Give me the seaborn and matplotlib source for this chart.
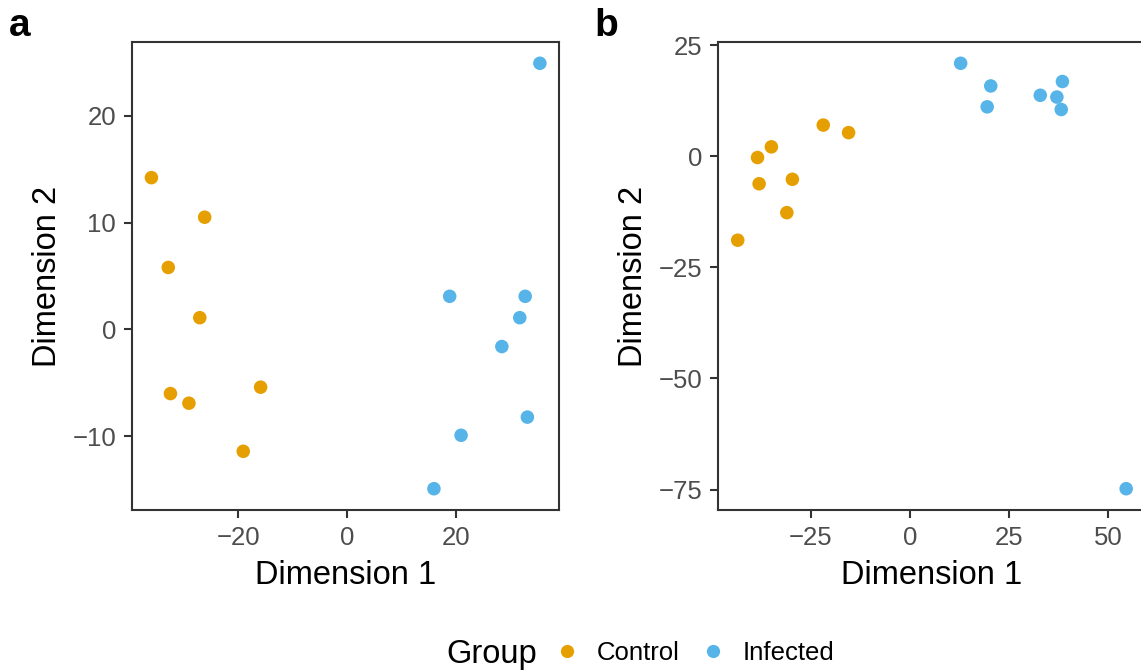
import matplotlib
matplotlib.use("Agg")
import matplotlib.pyplot as plt
from matplotlib.lines import Line2D
import seaborn as sns
import pandas as pd

# MDS coordinates, panel a
a_group = ["Control"] * 8 + ["Infected"] * 8
a_dim1 = [-36.0, -26.2, -32.9, -27.1, -32.5, -29.1, -15.9, -19.1,
          35.5, 18.9, 32.8, 31.8, 28.5, 33.2, 21.0, 16.0]
a_dim2 = [14.2, 10.5, 5.8, 1.1, -6.0, -6.9, -5.4, -11.4,
          24.9, 3.1, 3.1, 1.1, -1.6, -8.2, -9.9, -14.9]

# MDS coordinates, panel b
b_group = ["Control"] * 8 + ["Infected"] * 8
b_dim1 = [-43.5, -38.5, -35.0, -38.1, -29.7, -31.1, -21.9, -15.5,
          12.8, 20.4, 19.5, 32.9, 37.1, 38.5, 38.2, 54.6]
b_dim2 = [-18.9, -0.3, 2.1, -6.2, -5.2, -12.7, 7.0, 5.3,
          20.9, 15.8, 11.1, 13.7, 13.3, 16.8, 10.5, -74.8]

a_xticks = [-20, 0, 20]
a_yticks = [-10, 0, 10, 20]
b_xticks = [-25, 0, 25, 50]
b_yticks = [-75, -50, -25, 0, 25]

groups = ["Control", "Infected"]
palette = {"Control": "#E69F00", "Infected": "#56B4E9"}

sns.set_theme(style="white")
plt.rcParams["font.family"] = ["Liberation Sans", "DejaVu Sans"]
plt.rcParams["axes.unicode_minus"] = True

W, H = 1141, 672
fig = plt.figure(figsize=(W / 100, H / 100), dpi=100)

axis_col = "#333333"
tick_col = "#4D4D4D"


def panel(rect, x, y, g, xticks, yticks):
    ax = fig.add_axes(rect)
    df = pd.DataFrame({"Dimension 1": x, "Dimension 2": y, "Group": g})
    sns.scatterplot(data=df, x="Dimension 1", y="Dimension 2", hue="Group",
                    hue_order=groups, palette=palette, s=95, linewidth=0,
                    legend=False, ax=ax)
    xr = max(x) - min(x)
    yr = max(y) - min(y)
    ax.set_xlim(min(x) - 0.05 * xr, max(x) + 0.05 * xr)
    ax.set_ylim(min(y) - 0.05 * yr, max(y) + 0.05 * yr)
    ax.set_xticks(xticks)
    ax.set_yticks(yticks)
    for sp in ax.spines.values():
        sp.set_color(axis_col)
        sp.set_linewidth(1.5)
        sp.set_visible(True)
    ax.tick_params(axis="both", which="major", length=6, width=1.5,
                   color=axis_col, labelcolor=tick_col, labelsize=18.5,
                   pad=5.5, direction="out", bottom=True, left=True)
    ax.set_xlabel("Dimension 1", fontsize=23.5, color="black", labelpad=7)
    ax.set_ylabel("Dimension 2", fontsize=23.5, color="black", labelpad=7)
    ax.grid(False)
    return ax


ax_a = panel([132 / W, 1 - 510 / H, 427.3 / W, 468 / H],
             a_dim1, a_dim2, a_group, a_xticks, a_yticks)
ax_b = panel([718.3 / W, 1 - 510 / H, 427.3 / W, 468 / H],
             b_dim1, b_dim2, b_group, b_xticks, b_yticks)

fig.text(9 / W, 1 - 36 / H, "a", fontsize=28, fontweight="bold", color="black",
         ha="left", va="baseline")
fig.text(594 / W, 1 - 36 / H, "b", fontsize=28, fontweight="bold", color="black",
         ha="left", va="baseline")

# Legend at the bottom: title on the left, keys in a row
fig.text(446 / W, 1 - 654 / H, "Group", fontsize=23.5, color="black",
         ha="left", va="center")
handles = [Line2D([0], [0], marker="o", linestyle="", markersize=9.5,
                  markerfacecolor=palette[k], markeredgewidth=0) for k in groups]
leg = fig.legend(handles, groups, ncol=2, loc="center left",
                 bbox_to_anchor=(552 / W, 1 - 653 / H), frameon=False,
                 fontsize=18.5, handlelength=1.2, handletextpad=0.55,
                 columnspacing=0.7, borderpad=0, borderaxespad=0)
for t in leg.get_texts():
    t.set_color("black")

fig.savefig("out.png", dpi=100)
